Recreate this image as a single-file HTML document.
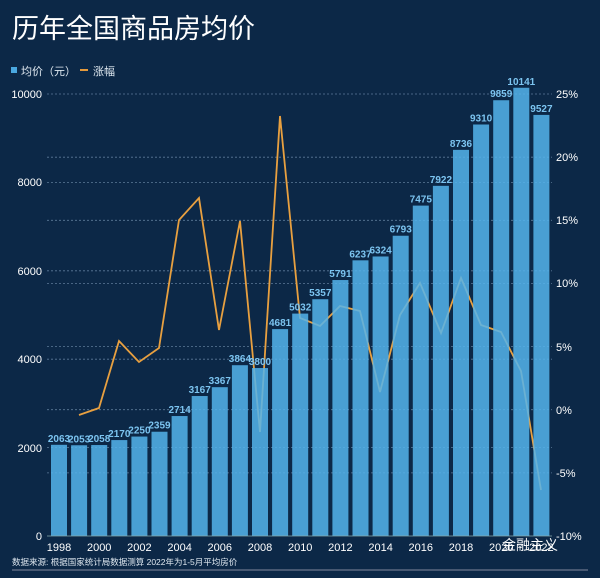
<!DOCTYPE html><html><head><meta charset="utf-8"><style>
body{margin:0;width:600px;height:573px;background:#0c2847;overflow:hidden}
text{font-family:"Liberation Sans","Noto Sans CJK SC",sans-serif}
</style></head><body>
<svg width="600" height="573" viewBox="0 0 600 573" xmlns="http://www.w3.org/2000/svg">
<rect width="600" height="573" fill="#0c2847"/>
<text x="12" y="38" fill="#fff" font-size="27">历年全国商品房均价</text>
<rect x="11" y="67" width="6" height="6" fill="#4aa8e0"/>
<text x="21" y="75" fill="#dfe8f0" font-size="11">均价（元）</text>
<rect x="80" y="69" width="8" height="2" fill="#e59a3c"/>
<text x="93" y="75" fill="#dfe8f0" font-size="11">涨幅</text>
<g stroke="#5d7a99" stroke-dasharray="2,2" stroke-width="0.8">
<line x1="47" x2="552" y1="94" y2="94"/><line x1="47" x2="552" y1="182.4" y2="182.4"/>
<line x1="47" x2="552" y1="270.8" y2="270.8"/><line x1="47" x2="552" y1="359.2" y2="359.2"/>
<line x1="47" x2="552" y1="447.6" y2="447.6"/>
<line x1="47" x2="552" y1="157.2" y2="157.2"/><line x1="47" x2="552" y1="220.3" y2="220.3"/>
<line x1="47" x2="552" y1="283.5" y2="283.5"/><line x1="47" x2="552" y1="346.6" y2="346.6"/>
<line x1="47" x2="552" y1="409.7" y2="409.7"/><line x1="47" x2="552" y1="472.9" y2="472.9"/>
</g>
<g fill="#fff" font-size="11" text-anchor="end">
<text x="42" y="98">10000</text><text x="42" y="186">8000</text><text x="42" y="275">6000</text>
<text x="42" y="363">4000</text><text x="42" y="452">2000</text><text x="42" y="540">0</text>
</g>
<g fill="#fff" font-size="11">
<text x="556" y="98">25%</text><text x="556" y="161">20%</text><text x="556" y="224">15%</text>
<text x="556" y="287">10%</text><text x="556" y="351">5%</text><text x="556" y="414">0%</text>
<text x="556" y="477">-5%</text><text x="556" y="540">-10%</text>
</g>
<polyline fill="none" stroke="#e8a040" stroke-width="1.8" points="79,415 99,408 119,341 139,362 159,348 179,220 199,198 219,330 240,221 260,432 280,116 300,318 320,326 340,306 360,311 380,392 400,315 420,283 441,333 461,278 481,325 501,332 521,371 541,490"/>
<g id="bars" fill="#55b4ec" fill-opacity="0.85"></g>
<g id="lbl" fill="#7cc4f0" font-size="10" font-weight="bold" text-anchor="middle"></g>
<line x1="47" x2="552" y1="536" y2="536" stroke="#8aa" stroke-width="0.8"/>
<g fill="#fff" font-size="11" text-anchor="middle" id="xl"></g>
<text x="12" y="565" fill="#dfe8f0" font-size="8.5">数据来源: 根据国家统计局数据测算 2022年为1-5月平均房价</text>
<line x1="12" x2="588" y1="570" y2="570" stroke="#aab" stroke-width="0.8"/>
<text x="530" y="550" fill="#fff" font-size="14" text-anchor="middle">金融主义</text>
<script>
var v=[2063,2053,2058,2170,2250,2359,2714,3167,3367,3864,3800,4681,5032,5357,5791,6237,6324,6793,7475,7922,8736,9310,9859,10141,9527];
var b=document.getElementById('bars'),l=document.getElementById('lbl'),x=document.getElementById('xl'),ns='http://www.w3.org/2000/svg';
v.forEach(function(d,i){var c=59+20.1*i,h=d*0.0442;
var r=document.createElementNS(ns,'rect');r.setAttribute('x',c-8);r.setAttribute('y',536-h);r.setAttribute('width',16);r.setAttribute('height',h);b.appendChild(r);
var t=document.createElementNS(ns,'text');t.setAttribute('x',c);t.setAttribute('y',533-h);t.textContent=d;l.appendChild(t);
if(i%2==0){var s=document.createElementNS(ns,'text');s.setAttribute('x',c);s.setAttribute('y',551);s.textContent=1998+i;x.appendChild(s);}});
</script>
</svg>
</body></html>
